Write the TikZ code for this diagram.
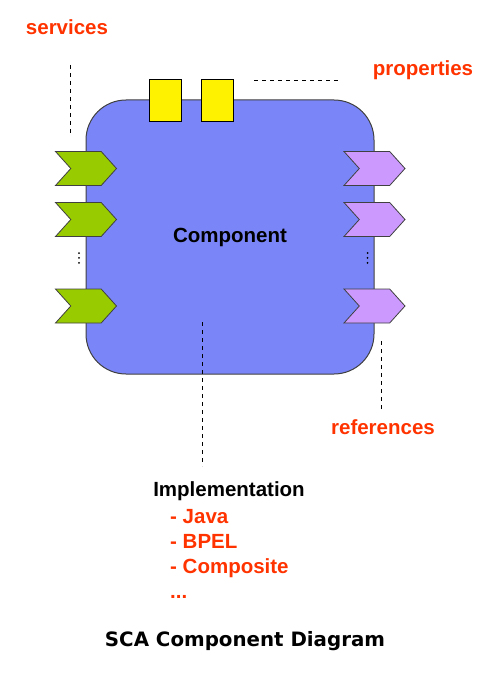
\documentclass[tikz,border=0pt]{standalone}
\usepackage{fontspec}
\setmainfont{Liberation Sans}
\newfontfamily\titlefont{DejaVu Sans}
\usetikzlibrary{positioning,shapes,shapes.symbols}
\definecolor{boxblue}{HTML}{7A86F8}
\definecolor{labred}{HTML}{FF3300}
\definecolor{srvgreen}{HTML}{99CC00}
\definecolor{refpurple}{HTML}{CC99FF}

\begin{document}
\begin{tikzpicture}[x=1pt,y=-1pt,
        every node/.style={inner sep=0pt},
        lab/.style={text=labred,font=\fontsize{20.5}{24}\selectfont\bfseries},
        chev/.style={signal,signal to=east,signal from=west,signal pointer angle=96,
          minimum width=61pt,minimum height=34pt,draw=black!75,line width=0.8pt},
        prop/.style={draw=black,line width=1pt,fill=yellow,minimum width=32pt,minimum height=42pt},
        dot/.style={circle,fill=black,minimum size=2pt},
        lead/.style={dash pattern=on 4pt off 4pt,line width=0.9pt},
        node distance=2.5pt
      ]
      \useasboundingbox (0,0) rectangle (496,674);
      \node [draw=black!75, line width=1pt, fill=boxblue, rounded corners=40pt,
             minimum width=288pt, minimum height=274pt,
             font=\fontsize{20.5}{24}\selectfont\bfseries] (0) at (230,237) {Component};
      \node [prop] (1) at (165,101) {};
      \node [prop] (2) at (217.5,101) {};
      \node [chev, fill=srvgreen] (3) at (86,168.5) {};
      \node [chev, fill=srvgreen] (4) at (86,219.5) {};
      \node [chev, fill=srvgreen] (5) at (86,306) {};
      \node [chev, fill=refpurple] (6) at (374.5,168.5) {};
      \node [chev, fill=refpurple] (7) at (374.5,219.5) {};
      \node [chev, fill=refpurple] (8) at (374.5,306) {};
      \node [dot] (9a) at (79,253) {};
      \node [dot, below=of 9a] (9b) {};
      \node [dot, below=of 9b] (9c) {};
      \node [dot] (10a) at (367.5,253) {};
      \node [dot, below=of 10a] (10b) {};
      \node [dot, below=of 10b] (10c) {};
      \node [lab] (11) at (67,27) {services};
      \node [lab] (12) at (423,70) {properties};
      \node [lab] (13) at (383,427) {references};
      \node [font=\fontsize{20.5}{24}\selectfont\bfseries] (14) at (229,491) {Implementation};
      \node [lab, anchor=base west] (15) at (170,523.5) {- Java};
      \node [lab, anchor=base west] (16) at (170,548.5) {- BPEL};
      \node [lab, anchor=base west] (17) at (170,573.5) {- Composite};
      \node [lab, anchor=base west] (18) at (170,598.5) {...};
      \node [font=\titlefont\fontsize{19.8}{24}\selectfont\bfseries] (19) at (245,641) {SCA Component Diagram};
      \coordinate (a1) at (70,65);
      \coordinate (a2) at (70,134);
      \coordinate (b1) at (254,80);
      \coordinate (b2) at (340,80);
      \coordinate (c1) at (381,341);
      \coordinate (c2) at (381,411);
      \coordinate (d1) at (202.5,322);
      \coordinate (d2) at (202.5,466);
      \draw[lead] (a1) -- (a2);
      \draw[lead] (b1) -- (b2);
      \draw[lead] (c1) -- (c2);
      \draw[lead] (d1) -- (d2);
    \end{tikzpicture}
\end{document}
